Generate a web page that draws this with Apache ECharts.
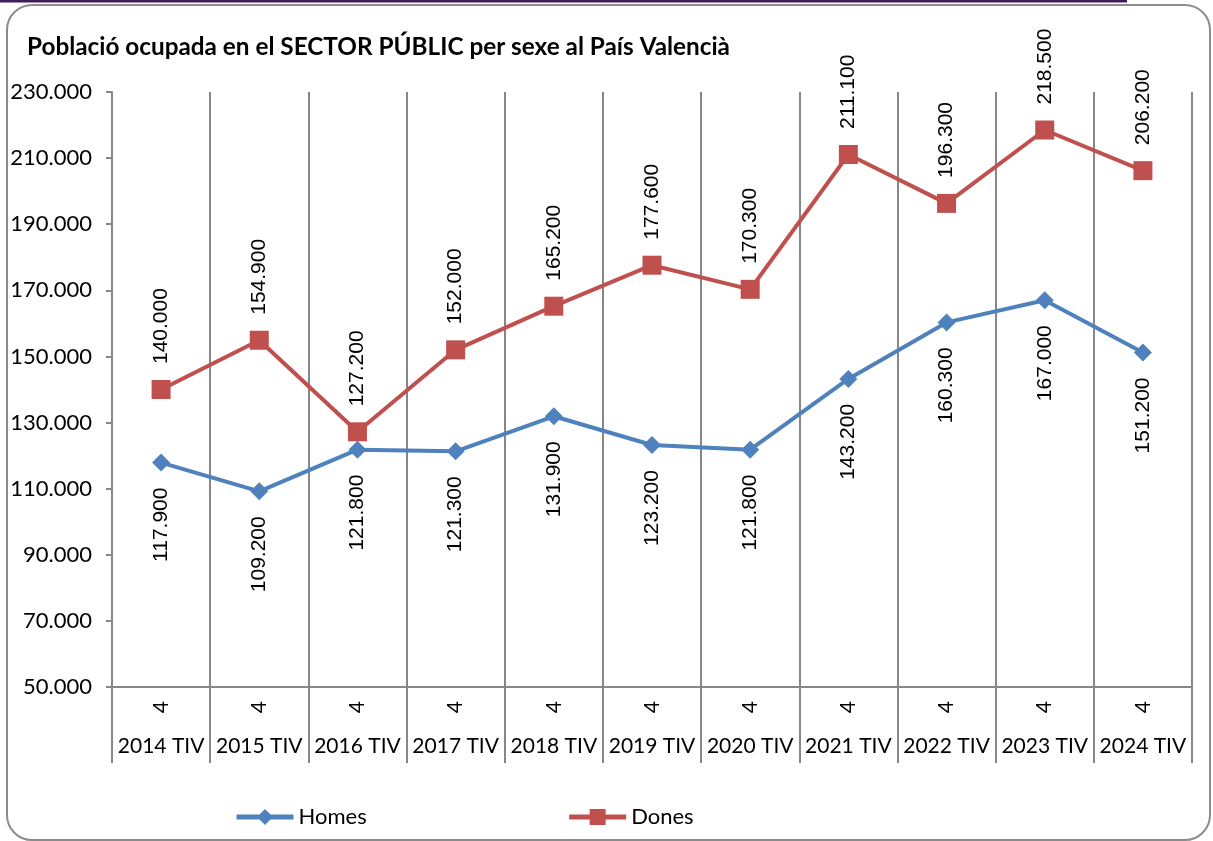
<!DOCTYPE html>
<html>
<head>
<meta charset="utf-8">
<title>Població ocupada en el SECTOR PÚBLIC</title>
<script src="https://cdn.jsdelivr.net/npm/echarts@6/dist/echarts.min.js"></script>
<style>
    html, body { margin: 0; padding: 0; background: #fff; }
    #myChart { width: 1213px; height: 841px; }
</style>
</head>
<body>
<div id="myChart"></div>
<script>
//数据
var quarters = ['4', '4', '4', '4', '4', '4', '4', '4', '4', '4', '4'];
var years = ['2014 TIV', '2015 TIV', '2016 TIV', '2017 TIV', '2018 TIV', '2019 TIV',
    '2020 TIV', '2021 TIV', '2022 TIV', '2023 TIV', '2024 TIV'];
var homesData = [117900, 109200, 121800, 121300, 131900, 123200, 121800, 143200, 160300, 167000, 151200];
var donesData = [140000, 154900, 127200, 152000, 165200, 177600, 170300, 211100, 196300, 218500, 206200];
var yMin = 50000;
var yMax = 230000;
var yStep = 20000;

//千分位用点
function formatThousands(value) {
    return String(value).replace(/\B(?=(\d{3})+(?!\d))/g, '.');
}

var gridColor = '#878787';
var textFont = 'Lato, "Open Sans", sans-serif';

//数据标签
function getLabel(position, align) {
    return {
        show: true,
        position: position,
        distance: 16,
        rotate: 90,
        align: align,
        verticalAlign: 'middle',
        fontFamily: '"Liberation Sans", Arial, sans-serif',
        fontSize: 21,
        color: '#000',
        formatter: function (p) {
            return formatThousands(p.value);
        }
    };
}

//获取Series
function getSeries() {
    return [{
        name: 'Homes',
        type: 'line',
        data: homesData,
        symbol: 'diamond',
        symbolSize: 18,
        lineStyle: {width: 4, color: '#4F81BD'},
        itemStyle: {color: '#4F81BD'},
        label: getLabel('bottom', 'right'),
        z: 3
    }, {
        name: 'Dones',
        type: 'line',
        data: donesData,
        symbol: 'rect',
        symbolSize: 19,
        lineStyle: {width: 4, color: '#C0504D'},
        itemStyle: {color: '#C0504D'},
        label: getLabel('top', 'left'),
        z: 4
    }];
}

var option = {
    animation: false,
    backgroundColor: '#fff',
    title: {
        text: 'Població ocupada en el SECTOR PÚBLIC per sexe al País Valencià',
        left: 22,
        top: 30,
        textStyle: {
            fontFamily: textFont,
            fontSize: 24.3,
            fontWeight: 'bold',
            color: '#000'
        }
    },
    legend: {
        left: 234,
        top: 806,
        padding: 0,
        itemWidth: 57,
        itemHeight: 20,
        itemGap: 200,
        lineStyle: {width: 5},
        textStyle: {fontFamily: textFont, fontSize: 22, color: '#000'},
        data: ['Homes', 'Dones']
    },
    grid: {
        left: 112,
        right: 21,
        top: 92,
        bottom: 154,
        containLabel: false
    },
    xAxis: [{
        type: 'category',
        data: quarters,
        boundaryGap: true,
        axisLine: {show: true, lineStyle: {color: gridColor, width: 2}},
        axisTick: {//刻度线向下延伸到年份行
            show: true,
            length: 76,
            lineStyle: {color: gridColor, width: 2}
        },
        axisLabel: {
            rotate: 90,
            margin: 14,
            interval: 0,
            fontFamily: textFont,
            fontSize: 21,
            color: '#000'
        },
        splitLine: {//竖向网格线
            show: true,
            lineStyle: {color: gridColor, width: 2}
        }
    }, {
        type: 'category',
        data: years,
        position: 'bottom',
        gridIndex: 0,
        boundaryGap: true,
        axisLine: {show: false},
        axisTick: {show: false},
        splitLine: {show: false},
        axisLabel: {
            margin: 49,
            interval: 0,
            fontFamily: textFont,
            fontSize: 21,
            color: '#000'
        }
    }],
    yAxis: {
        type: 'value',
        min: yMin,
        max: yMax,
        interval: yStep,
        axisLine: {show: true, lineStyle: {color: gridColor, width: 2}},
        axisTick: {show: true, length: 6, lineStyle: {color: gridColor, width: 2}},
        splitLine: {show: false},
        axisLabel: {
            margin: 20,
            fontFamily: textFont,
            fontSize: 22,
            color: '#000',
            formatter: function (value) {
                return formatThousands(value);
            }
        }
    },
    graphic: [{
        type: 'rect',
        shape: {x: 7, y: 5, width: 1203, height: 835, r: 25},
        style: {fill: null, stroke: '#8c8c8c', lineWidth: 2},
        silent: true,
        z: -1
    }, {
        type: 'line',
        shape: {x1: 0, y1: 1, x2: 1127, y2: 1},
        style: {stroke: '#3f1d5c', lineWidth: 3},
        silent: true
    }],
    series: getSeries()
};

var myChart = echarts.init(document.getElementById('myChart'));
myChart.setOption(option);
</script>
</body>
</html>
